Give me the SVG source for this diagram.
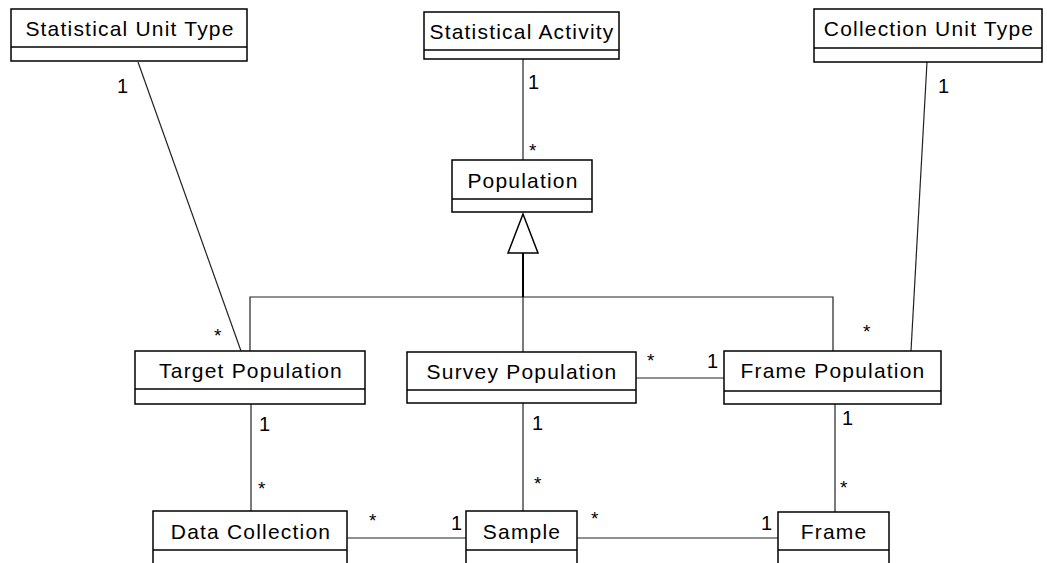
<svg xmlns="http://www.w3.org/2000/svg" width="1047" height="563" viewBox="0 0 1047 563">
<style>
.box{fill:#fff;stroke:#000;stroke-width:1.5}
.div{stroke:#000;stroke-width:1.3}
.t{font-family:"Liberation Sans",Arial,sans-serif;font-size:21px;letter-spacing:1.2px;fill:#000;text-anchor:middle}
.m{font-family:"Liberation Sans",Arial,sans-serif;font-size:20px;fill:#000}
.s{font-family:"Liberation Sans",Arial,sans-serif;font-size:19px;fill:#000}
.c{stroke:#222;stroke-width:1.2;fill:none}
</style>
<rect width="1047" height="563" fill="#fff"/>
<g id="connectors">
<line class="c" x1="138" y1="62" x2="241" y2="351"/>
<line class="c" x1="523" y1="59" x2="523" y2="160"/>
<line class="c" x1="927" y1="62" x2="911" y2="351"/>
<polyline class="c" points="250,351 250,297 833,297 833,351"/>
<line class="c" x1="523" y1="297" x2="523" y2="352"/>
<line x1="523" y1="253" x2="523" y2="297" stroke="#000" stroke-width="2"/>
<polygon points="523,214 508,253 538,253" fill="#fff" stroke="#000" stroke-width="1.5"/>
<line class="c" x1="636" y1="378" x2="724" y2="378"/>
<line class="c" x1="251" y1="404" x2="251" y2="511"/>
<line class="c" x1="523" y1="403" x2="523" y2="511"/>
<line class="c" x1="835" y1="404" x2="835" y2="512"/>
<line class="c" x1="347" y1="538" x2="466" y2="538"/>
<line class="c" x1="577" y1="538" x2="778" y2="538"/>
<text class="m" x="117" y="93">1</text>
<text class="s" x="214" y="342">*</text>
<text class="m" x="528" y="89">1</text>
<text class="s" x="529" y="157">*</text>
<text class="m" x="938" y="93">1</text>
<text class="s" x="863" y="338">*</text>
<text class="s" x="647" y="367">*</text>
<text class="m" x="707" y="368">1</text>
<text class="m" x="259" y="431">1</text>
<text class="s" x="258" y="495">*</text>
<text class="m" x="532" y="430">1</text>
<text class="s" x="534" y="490">*</text>
<text class="m" x="842" y="425">1</text>
<text class="s" x="840" y="494">*</text>
<text class="s" x="369" y="527">*</text>
<text class="m" x="451" y="530">1</text>
<text class="s" x="591" y="525">*</text>
<text class="m" x="761" y="530">1</text>
</g>
<g id="stat-unit-type"><rect class="box" x="11" y="9" width="236" height="52"/><line class="div" x1="11" y1="47" x2="247" y2="47"/><text class="t" x="130" y="36">Statistical Unit Type</text></g>
<g id="stat-activity"><rect class="box" x="424" y="12" width="195" height="47"/><line class="div" x1="424" y1="50" x2="619" y2="50"/><text class="t" x="522" y="39">Statistical Activity</text></g>
<g id="coll-unit-type"><rect class="box" x="814" y="9" width="228" height="53"/><line class="div" x1="814" y1="48" x2="1042" y2="48"/><text class="t" x="929" y="36">Collection Unit Type</text></g>
<g id="population"><rect class="box" x="452" y="160" width="140" height="52"/><line class="div" x1="452" y1="199" x2="592" y2="199"/><text class="t" x="523" y="188">Population</text></g>
<g id="target-population"><rect class="box" x="135" y="351" width="230" height="53"/><line class="div" x1="135" y1="389" x2="365" y2="389"/><text class="t" x="251" y="378">Target Population</text></g>
<g id="survey-population"><rect class="box" x="407" y="352" width="229" height="51"/><line class="div" x1="407" y1="390" x2="636" y2="390"/><text class="t" x="522" y="379">Survey Population</text></g>
<g id="frame-population"><rect class="box" x="724" y="351" width="217" height="53"/><line class="div" x1="724" y1="391" x2="941" y2="391"/><text class="t" x="833" y="378">Frame Population</text></g>
<g id="data-collection"><rect class="box" x="153" y="511" width="194" height="60"/><line class="div" x1="153" y1="550" x2="347" y2="550"/><text class="t" x="251" y="539">Data Collection</text></g>
<g id="sample"><rect class="box" x="466" y="511" width="111" height="60"/><line class="div" x1="466" y1="550" x2="577" y2="550"/><text class="t" x="522" y="539">Sample</text></g>
<g id="frame"><rect class="box" x="778" y="512" width="111" height="60"/><line class="div" x1="778" y1="550" x2="889" y2="550"/><text class="t" x="834" y="539">Frame</text></g>
</svg>
